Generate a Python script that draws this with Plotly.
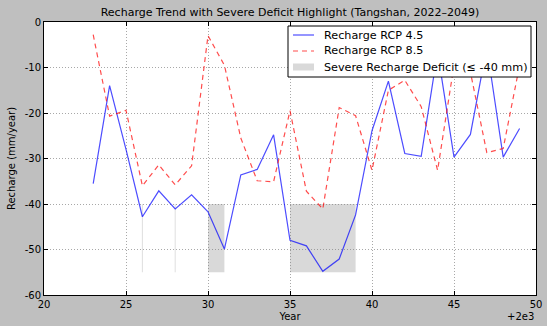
import plotly.graph_objects as go

years = list(range(2023, 2050))
rcp45 = [-35.5, -14.0, -28.0, -42.8, -37.1, -41.1, -38.0, -41.7, -49.9, -33.6,
         -32.4, -24.8, -48.0, -49.2, -54.8, -52.1, -42.4, -23.9, -13.0, -28.9,
         -29.5, -6.5, -29.7, -24.7, -5.5, -29.7, -23.4]
rcp85 = [-2.8, -20.7, -19.4, -36.0, -31.4, -35.8, -31.6, -3.0, -9.5, -25.5,
         -34.9, -35.1, -19.5, -37.2, -41.1, -18.8, -20.6, -32.6, -15.0, -12.8,
         -18.6, -32.6, -9.5, -11.0, -28.7, -27.8, -9.5]
threshold = -40
band_bottom = -55
xtick_vals = [2020, 2025, 2030, 2035, 2040, 2045, 2050]
xtick_text = ["20", "25", "30", "35", "40", "45", "50"]
ytick_vals = [0, -10, -20, -30, -40, -50, -60]
ytick_text = ["0", "-10", "-20", "-30", "-40", "-50", "-60"]
legend_labels = ["Recharge RCP 4.5", "Recharge RCP 8.5", "Severe Recharge Deficit (≤ -40 mm)"]

FONT = "DejaVu Sans"
BLUE = "rgba(0,0,255,0.7)"
RED = "rgba(255,0,0,0.7)"
FILL = "rgba(128,128,128,0.3)"

W, H = 550, 329
ML, MR, MT, MB = 44, 14, 22, 34
PW, PH = W - ML - MR, H - MT - MB


def px(x):
    return (x - ML) / PW


def py(y):
    return (H - MB - y) / PH


fig = go.Figure()

# severe-deficit runs
runs = []
cur = []
for y, v in zip(years, rcp45):
    if v <= threshold:
        cur.append(y)
    else:
        if cur:
            runs.append(cur)
        cur = []
if cur:
    runs.append(cur)

for r in runs:
    x0, x1 = r[0], r[-1]
    if x0 == x1:
        fig.add_trace(go.Scatter(x=[x0, x0], y=[threshold, band_bottom], mode="lines",
                                 line=dict(color="rgba(128,128,128,0.25)", width=1),
                                 showlegend=False, hoverinfo="skip"))
    else:
        fig.add_trace(go.Scatter(x=[x0, x1, x1, x0, x0],
                                 y=[threshold, threshold, band_bottom, band_bottom, threshold],
                                 mode="lines", fill="toself", fillcolor=FILL,
                                 line=dict(width=0, color=FILL),
                                 name=legend_labels[2], showlegend=False))

fig.add_trace(go.Scatter(x=years, y=rcp45, mode="lines", name=legend_labels[0],
                         line=dict(color=BLUE, width=1.2), showlegend=False))
fig.add_trace(go.Scatter(x=years, y=rcp85, mode="lines", name=legend_labels[1],
                         line=dict(color=RED, width=1.2, dash="5px,4px"), showlegend=False))

axis_common = dict(showline=True, linecolor="black", linewidth=1, mirror="allticks",
                   ticks="inside", ticklen=4, tickcolor="black", automargin=False,
                   showgrid=True, gridcolor="#a8a8a8", griddash="1px,2px", gridwidth=1,
                   zeroline=False, tickfont=dict(family=FONT, size=10, color="black"))

fig.update_xaxes(range=[2020, 2050], tickvals=xtick_vals, ticktext=xtick_text,
                 title=dict(text="Year", font=dict(family=FONT, size=10, color="black"),
                            standoff=3),
                 **axis_common)
fig.update_yaxes(range=[-60, 0], tickvals=ytick_vals, ticktext=ytick_text,
                 title=dict(text="Recharge (mm/year)",
                            font=dict(family=FONT, size=10, color="black"), standoff=7),
                 **axis_common)

fig.update_layout(
    width=W, height=H,
    margin=dict(l=ML, r=MR, t=MT, b=MB),
    paper_bgcolor="#bfbfbf", plot_bgcolor="white",
    font=dict(family=FONT, color="black"),
    title=dict(text="Recharge Trend with Severe Deficit Highlight (Tangshan, 2022–2049)",
               x=0.5, xref="paper", xanchor="center", y=1 - 12.5 / H, yanchor="middle",
               font=dict(family=FONT, size=11, color="black")),
    showlegend=False,
)

fig.add_annotation(text="+2e3", xref="paper", yref="paper", x=1.0, y=py(316),
                   xanchor="right", yanchor="middle", showarrow=False,
                   font=dict(family=FONT, size=10, color="black"))

# custom legend (matplotlib-like box)
fig.add_shape(type="rect", xref="paper", yref="paper",
              x0=px(288), x1=px(531), y0=py(26), y1=py(77),
              fillcolor="white", line=dict(color="black", width=1), layer="above")
rows = [35, 51, 67]
fig.add_shape(type="line", xref="paper", yref="paper",
              x0=px(293), x1=px(314), y0=py(rows[0]), y1=py(rows[0]),
              line=dict(color=BLUE, width=1.2), layer="above")
fig.add_shape(type="line", xref="paper", yref="paper",
              x0=px(293), x1=px(314), y0=py(rows[1]), y1=py(rows[1]),
              line=dict(color=RED, width=1.2, dash="5px,4px"), layer="above")
fig.add_shape(type="rect", xref="paper", yref="paper",
              x0=px(293), x1=px(314), y0=py(rows[2] - 3.5), y1=py(rows[2] + 3.5),
              fillcolor="#d9d9d9", line=dict(width=0), layer="above")
for lab, r in zip(legend_labels, rows):
    fig.add_annotation(text=lab, xref="paper", yref="paper", x=px(322), y=py(r),
                       xanchor="left", yanchor="middle", showarrow=False,
                       font=dict(family=FONT, size=11.2, color="black"))

# white strips at right and bottom edges of the figure
fig.add_shape(type="rect", xref="paper", yref="paper",
              x0=px(547), x1=px(560), y0=py(340), y1=py(-10),
              fillcolor="white", line=dict(width=0), layer="below")
fig.add_shape(type="rect", xref="paper", yref="paper",
              x0=px(-10), x1=px(560), y0=py(326), y1=py(340),
              fillcolor="white", line=dict(width=0), layer="below")

fig.write_html("out.html", config={"displayModeBar": False},
               post_script="document.body.style.margin='0';document.body.style.padding='0';")
